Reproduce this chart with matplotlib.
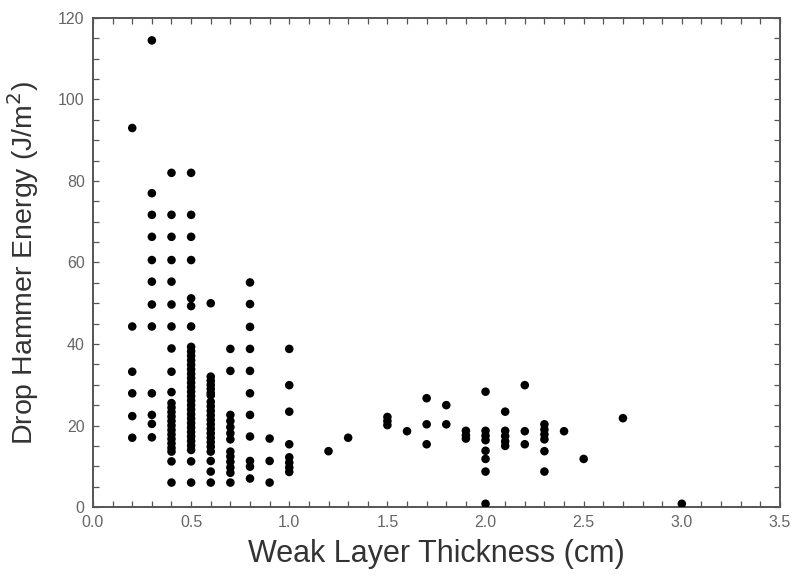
import matplotlib
matplotlib.use("Agg")
import matplotlib.pyplot as plt
from matplotlib.ticker import MultipleLocator
import numpy as np

# Weak layer thickness levels (cm) and drop-hammer energies (J/m^2) read per column
e_0_2 = [93.0, 44.3, 33.2, 27.9, 22.3, 17.0]
e_0_3 = [114.5, 77.0, 71.7, 66.3, 60.6, 55.3, 49.7, 44.3, 27.9, 22.6, 20.4, 17.1]
e_0_4 = [82.0, 71.7, 66.3, 60.6, 55.3, 49.7, 44.3, 38.9, 33.2, 28.2,
         25.5, 24.4, 23.3, 22.2, 21.1, 20.0, 18.9, 17.8, 16.7, 15.6, 14.5, 13.6,
         11.2, 6.0]
e_0_5 = [82.0, 71.7, 66.3, 60.6, 51.2, 49.3, 44.3,
         39.3, 38.2, 37.1, 36.0, 34.9, 33.8, 32.7, 31.6, 30.5, 29.4, 28.3,
         27.2, 26.1, 25.0, 23.9, 22.8, 21.7, 20.6, 19.5, 18.4, 17.3, 16.2,
         15.1, 14.0, 11.2, 6.0]
e_0_6 = [50.0, 32.0, 31.0, 30.0, 29.0, 28.0, 27.4,
         25.8, 24.7, 23.6, 22.5, 21.4, 20.3, 19.2, 18.1, 17.0, 15.9, 14.8, 13.6,
         11.3, 8.7, 6.0]
e_0_7 = [38.8, 33.4, 22.6, 21.1, 19.6, 18.1, 16.6, 13.6, 12.4, 11.1, 9.7, 8.4, 6.0]
e_0_8 = [55.1, 49.8, 44.2, 38.8, 33.4, 27.9, 22.6, 17.3, 11.3, 9.9, 7.0]
e_0_9 = [16.8, 11.3, 6.0]
e_1_0 = [38.8, 29.9, 23.4, 15.4, 12.2, 10.9, 9.7, 8.6]
e_1_2 = [13.7]
e_1_3 = [17.0]
e_1_5 = [22.1, 21.1, 20.1]
e_1_6 = [18.6]
e_1_7 = [26.7, 20.3, 15.4]
e_1_8 = [25.0, 20.3]
e_1_9 = [18.7, 17.6, 16.8]
e_2_0 = [28.3, 18.7, 17.5, 16.4, 13.8, 11.8, 8.7, 0.8]
e_2_1 = [23.4, 18.7, 17.4, 16.1, 15.0]
e_2_2 = [29.9, 18.6, 15.4]
e_2_3 = [20.3, 19.0, 17.8, 16.6, 13.7, 8.7]
e_2_4 = [18.6]
e_2_5 = [11.8]
e_2_7 = [21.8]
e_3_0 = [0.8]

thickness_levels = [0.2, 0.3, 0.4, 0.5, 0.6, 0.7, 0.8, 0.9, 1.0, 1.2, 1.3, 1.5,
                    1.6, 1.7, 1.8, 1.9, 2.0, 2.1, 2.2, 2.3, 2.4, 2.5, 2.7, 3.0]
energy_columns = [e_0_2, e_0_3, e_0_4, e_0_5, e_0_6, e_0_7, e_0_8, e_0_9, e_1_0,
                  e_1_2, e_1_3, e_1_5, e_1_6, e_1_7, e_1_8, e_1_9, e_2_0, e_2_1,
                  e_2_2, e_2_3, e_2_4, e_2_5, e_2_7, e_3_0]

x_ticklabels = ["0.0", "0.5", "1.0", "1.5", "2.0", "2.5", "3.0", "3.5"]
y_ticklabels = ["0", "20", "40", "60", "80", "100", "120"]

xs, ys = [], []
for t, col in zip(thickness_levels, energy_columns):
    xs.extend([t] * len(col))
    ys.extend(col)

plt.rcParams['font.family'] = ['Liberation Sans', 'DejaVu Sans']

fig = plt.figure(figsize=(7.92, 5.78), dpi=100)
ax = fig.add_axes([0.1174, 0.1228, 0.8674, 0.8461])

ax.scatter(xs, ys, s=38, color='black', edgecolors='none', zorder=3)

ax.set_xlim(0, 3.5)
ax.set_ylim(0, 120)
ax.set_xticks(np.arange(0, 3.51, 0.5))
ax.set_yticks(np.arange(0, 121, 20))
ax.xaxis.set_minor_locator(MultipleLocator(0.1))
ax.yaxis.set_minor_locator(MultipleLocator(5))

tick_font = dict(family=['Liberation Sans Narrow', 'Liberation Sans', 'DejaVu Sans'],
                 size=11.5, color='#666666')
ax.set_xticklabels(x_ticklabels, **tick_font)
ax.set_yticklabels(y_ticklabels, **tick_font)

spine_color = '#555555'
for sp in ax.spines.values():
    sp.set_color(spine_color)
    sp.set_linewidth(1.4)

ax.tick_params(which='both', direction='in', top=True, right=True,
               color=spine_color, width=0.9)
ax.tick_params(which='major', length=4, pad=6)
ax.tick_params(which='minor', length=4)

ax.set_xlabel('Weak Layer Thickness (cm)', fontsize=22, color='#333333', labelpad=6)
ax.set_ylabel('Drop Hammer Energy (J/m$^2$)', fontsize=20.5, color='#333333', labelpad=12)

fig.savefig('out.png', dpi=100)
